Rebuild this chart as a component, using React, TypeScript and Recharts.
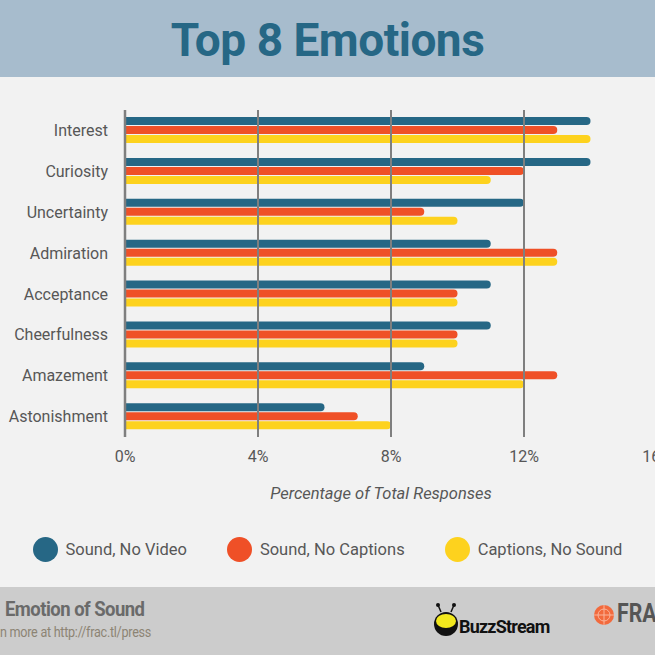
import { Bar, BarChart, XAxis, YAxis, ReferenceLine, Legend, Label } from "recharts";

const EMOTIONS = ["Interest", "Curiosity", "Uncertainty", "Admiration", "Acceptance", "Cheerfulness", "Amazement", "Astonishment"];
const SOUND_NO_VIDEO = [14, 14, 12, 11, 11, 11, 9, 6];
const SOUND_NO_CAPTIONS = [13, 12, 9, 13, 10, 10, 13, 7];
const CAPTIONS_NO_SOUND = [14, 11, 10, 13, 10, 10, 12, 8];
const X_TICKS = [0, 4, 8, 12, 16];

const SERIES = [
    { key: "soundNoVideo", name: "Sound, No Video", color: "#266785" },
    { key: "soundNoCaptions", name: "Sound, No Captions", color: "#ef5027" },
    { key: "captionsNoSound", name: "Captions, No Sound", color: "#fdd21e" },
];

const data = EMOTIONS.map((name, i) => ({
    name,
    soundNoVideo: SOUND_NO_VIDEO[i],
    soundNoCaptions: SOUND_NO_CAPTIONS[i],
    captionsNoSound: CAPTIONS_NO_SOUND[i],
}));

const FONT = "Roboto, 'Noto Sans', sans-serif";
const TEXT = "#575757";

function LegendRow() {
    return (
        <div style={{ display: "flex", justifyContent: "center", alignItems: "center", height: 25, width: 655, fontFamily: FONT }}>
            {SERIES.map((s, i) => (
                <div key={s.key} style={{ display: "flex", alignItems: "center", marginLeft: i === 0 ? 0 : 40 }}>
                    <span style={{ width: 25, height: 25, borderRadius: "50%", background: s.color, display: "inline-block" }} />
                    <span style={{ marginLeft: 8, fontSize: 16.5, color: TEXT }}>{s.name}</span>
                </div>
            ))}
        </div>
    );
}

export default function App() {
    return (
        <div style={{ position: "absolute", top: 0, left: 0, width: 655, height: 655, overflow: "hidden", background: "#f2f2f2", fontFamily: FONT }}>
            <div style={{ height: 77, background: "#a7bccd", display: "flex", alignItems: "center", justifyContent: "center" }}>
                <span style={{ color: "#266785", fontWeight: 700, fontSize: 46, letterSpacing: -0.5, display: "inline-block", marginTop: 2 }}>
                    Top 8 Emotions
                </span>
            </div>

            <div style={{ position: "absolute", top: 77, left: 0 }}>
                <BarChart
                    width={700}
                    height={510}
                    data={data}
                    layout="vertical"
                    margin={{ top: 33, right: 43, left: 0, bottom: 63 }}
                    barSize={8}
                    barGap={1}
                    barCategoryGap={0}
                >
                    <XAxis
                        type="number"
                        domain={[0, 16]}
                        ticks={X_TICKS}
                        tickFormatter={(v) => `${v}%`}
                        axisLine={false}
                        tickLine={false}
                        tickSize={0}
                        tickMargin={14}
                        height={62}
                        tick={{ fill: TEXT, fontSize: 16, fontFamily: FONT }}
                        interval={0}
                    >
                        <Label
                            value="Percentage of Total Responses"
                            position="insideBottom"
                            offset={0}
                            dx={-10}
                            style={{ fill: TEXT, fontSize: 16.5, fontStyle: "italic", fontFamily: FONT }}
                        />
                    </XAxis>
                    <YAxis
                        type="category"
                        dataKey="name"
                        width={125}
                        axisLine={false}
                        tickLine={false}
                        tickSize={0}
                        tickMargin={17}
                        tick={{ fill: TEXT, fontSize: 16, fontFamily: FONT }}
                        interval={0}
                    />
                    {SERIES.map((s) => (
                        <Bar key={s.key} dataKey={s.key} name={s.name} fill={s.color} radius={[0, 4, 4, 0]} isAnimationActive={false} />
                    ))}
                    {X_TICKS.map((t) => (
                        <ReferenceLine key={t} x={t} stroke="#7f7f7f" strokeWidth={t === 0 ? 2.5 : 2} />
                    ))}
                    <Legend
                        verticalAlign="bottom"
                        content={() => <LegendRow />}
                        wrapperStyle={{ top: 460, bottom: "auto", left: 0, width: 655 }}
                    />
                </BarChart>
            </div>

            <div style={{ position: "absolute", top: 587, left: 0, width: 655, height: 68, background: "#cccccc" }}>
                <div style={{ position: "absolute", left: 5, top: 10, fontSize: 21, fontWeight: 700, color: "#6a6a6a", letterSpacing: -0.6, transform: "scaleX(0.88)", transformOrigin: "left" }}>
                    Emotion of Sound
                </div>
                <div style={{ position: "absolute", left: 0, top: 37, fontSize: 14, color: "#8c8474", letterSpacing: -0.3, transform: "scaleX(0.9)", transformOrigin: "left" }}>
                    n more at http://frac.tl/press
                </div>
                <svg style={{ position: "absolute", left: 432, top: 16 }} width={28} height={34} viewBox="0 0 28 34">
                    <line x1={9} y1={9} x2={6} y2={2} stroke="#111" strokeWidth={1.5} />
                    <line x1={19} y1={9} x2={22} y2={2} stroke="#111" strokeWidth={1.5} />
                    <circle cx={6} cy={2} r={2} fill="#111" />
                    <circle cx={22} cy={2} r={2} fill="#111" />
                    <ellipse cx={14} cy={21} rx={12} ry={12} fill="#111" />
                    <ellipse cx={14} cy={18} rx={10} ry={7} fill="#f2e81d" />
                </svg>
                <div style={{ position: "absolute", left: 459, top: 29, fontSize: 18, fontWeight: 700, color: "#111", letterSpacing: -0.8 }}>
                    BuzzStream
                </div>
                <svg style={{ position: "absolute", left: 593, top: 17 }} width={22} height={22} viewBox="0 0 22 22">
                    <circle cx={11} cy={11} r={10} fill="#f26a3d" />
                    <circle cx={11} cy={11} r={6} fill="none" stroke="#fbb49a" strokeWidth={1} />
                    <line x1={11} y1={1} x2={11} y2={21} stroke="#fbb49a" strokeWidth={1} />
                    <line x1={1} y1={11} x2={21} y2={11} stroke="#fbb49a" strokeWidth={1} />
                </svg>
                <div style={{ position: "absolute", left: 617, top: 12, fontSize: 25, fontWeight: 700, color: "#555", transform: "scaleX(0.85)", transformOrigin: "left" }}>
                    FRA
                </div>
            </div>
        </div>
    );
}
